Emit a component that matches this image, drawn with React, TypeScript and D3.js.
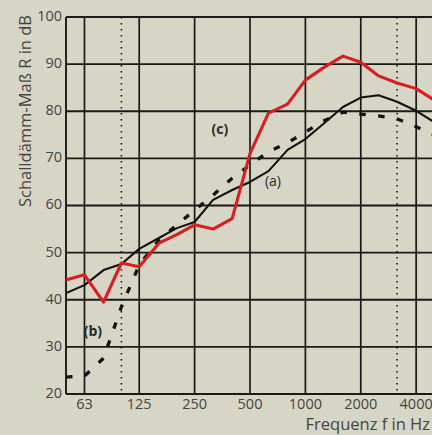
import React from "react";
import * as d3 from "d3";

const freqs = [50, 63, 80, 100, 125, 160, 200, 250, 315, 400, 500, 630, 800, 1000, 1250, 1600, 2000, 2500, 3150, 4000, 5000];
const seriesA = [41.4, 43.1, 46.3, 47.6, 50.8, 53.1, 55.2, 56.5, 61.2, 63.3, 65.0, 67.3, 71.8, 74.1, 77.3, 80.9, 82.9, 83.4, 82.0, 80.1, 77.7];
const seriesB = [23.6, 23.8, 27.6, 38.5, 47.4, 52.7, 55.9, 59.0, 62.2, 65.8, 68.6, 71.4, 73.3, 75.6, 77.9, 79.8, 79.4, 79.0, 78.4, 76.7, 75.0];
const seriesC = [44.2, 45.3, 39.5, 47.8, 47.0, 52.0, 53.8, 55.9, 55.0, 57.2, 71.0, 79.6, 81.5, 86.6, 89.2, 91.7, 90.4, 87.5, 86.0, 84.8, 82.4];
const xTicks = [63, 125, 250, 500, 1000, 2000, 4000];
const xTickLabels = ["63", "125", "250", "500", "1000", "2000", "4000"];
const dottedFreqs = [100, 3150];
const yTicks = [20, 30, 40, 50, 60, 70, 80, 90, 100];
const labels = [
  { text: "(c)", f: 343, v: 76.0, bold: true },
  { text: "(a)", f: 666, v: 65.0, bold: false },
  { text: "(b)", f: 70, v: 33.0, bold: true },
];

export default function App() {
  const W = 432, H = 435;
  const x = d3.scaleLog().domain([50, 5000]).range([66, 434]);
  const y = d3.scaleLinear().domain([20, 100]).range([394, 17]);
  const line = d3.line<number>().x((_, i) => x(freqs[i])).y((d) => y(d));
  const bg = "#d7d5c5";
  const font = "'Open Sans', 'Noto Sans', sans-serif";
  const grid = "#1a1a1a";
  return (
    <svg width={W} height={H} style={{ position: "absolute", left: 0, top: 0, background: bg }}>
      <rect x={0} y={0} width={W} height={H} fill={bg} />
      <defs>
        <clipPath id="plot">
          <rect x={66} y={14} width={W - 66} height={384} />
        </clipPath>
      </defs>
      {yTicks.map((t) => (
        <line key={"h" + t} x1={66} x2={W} y1={y(t)} y2={y(t)} stroke={grid} strokeWidth={1.8} />
      ))}
      <line x1={66} x2={66} y1={y(100)} y2={y(20)} stroke={grid} strokeWidth={1.9} />
      {xTicks.map((t) => (
        <line key={"v" + t} x1={x(t)} x2={x(t)} y1={y(100)} y2={y(20)} stroke={grid} strokeWidth={1.7} />
      ))}
      {dottedFreqs.map((t) => (
        <line key={"d" + t} x1={x(t)} x2={x(t)} y1={y(100)} y2={y(20)} stroke={grid} strokeWidth={1.6} strokeDasharray="1.6 4.4" />
      ))}
      <g clipPath="url(#plot)">
        <path d={line(seriesB) || ""} fill="none" stroke="#111" strokeWidth={3.3} strokeDasharray="6.5 12.5" />
        <path d={line(seriesA) || ""} fill="none" stroke="#111" strokeWidth={2.1} strokeLinejoin="round" />
        <path d={line(seriesC) || ""} fill="none" stroke="#d61f1f" strokeWidth={3.1} strokeLinejoin="round" />
      </g>
      {labels.map((l) => (
        <text key={l.text} x={x(l.f)} y={y(l.v)} textAnchor="middle" dominantBaseline="middle" fontFamily={font} fontSize={14} fontWeight={l.bold ? 700 : 400} fill="#2a2a2a">
          {l.text}
        </text>
      ))}
      {yTicks.map((t) => (
        <text key={"yl" + t} x={62} y={y(t)} textAnchor="end" dominantBaseline="middle" fontFamily={font} fontSize={14.5} fill="#444">
          {t}
        </text>
      ))}
      {xTicks.map((t, i) => (
        <text key={"xl" + t} x={x(t)} y={409} textAnchor="middle" fontFamily={font} fontSize={14.5} fill="#444">
          {xTickLabels[i]}
        </text>
      ))}
      <text x={430} y={430} textAnchor="end" fontFamily={font} fontSize={16.5} fill="#444">
        Frequenz f in Hz
      </text>
      <text transform="translate(31,111) rotate(-90)" textAnchor="middle" fontFamily={font} fontSize={16.5} fill="#444">
        Schalldämm-Maß R in dB
      </text>
    </svg>
  );
}
